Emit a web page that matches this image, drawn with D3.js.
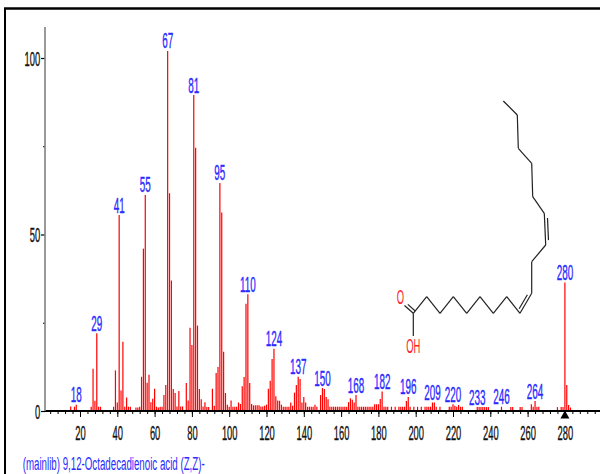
<!DOCTYPE html>
<html>
<head>
<meta charset="utf-8">
<script src="https://cdn.jsdelivr.net/npm/d3@7"></script>
<style>
  body { margin: 0; background: #fff; }
  svg { display: block; }
  text { font-family: "Liberation Sans", Arial, sans-serif; }
</style>
</head>
<body>
<svg id="chart" width="600" height="474"></svg>
<script>
// m/z values and relative intensities
const mz = [
  15, 17, 18, 26, 27, 28, 29, 30, 31, 38, 39, 40, 41, 42, 43, 44, 45, 46, 47,
  50, 51, 52, 53, 54, 55, 56, 57, 58, 59, 60, 61, 62, 63, 64, 65, 66, 67, 68,
  69, 70, 71, 72, 73, 74, 75, 77, 78, 79, 80, 81, 82, 83, 84, 85, 86, 87, 88,
  89, 91, 92, 93, 94, 95, 96, 97, 98, 99, 100, 101, 102, 103, 104, 105, 106,
  107, 108, 109, 110, 111, 112, 113, 114, 115, 116, 117, 118, 119, 120, 121,
  122, 123, 124, 125, 126, 127, 128, 129, 130, 131, 132, 133, 134, 135, 136,
  137, 138, 139, 140, 141, 142, 143, 144, 145, 146, 147, 149, 150, 151, 152,
  153, 154, 155, 156, 157, 158, 159, 160, 161, 162, 163, 164, 165, 166, 167,
  168, 169, 170, 171, 172, 173, 174, 175, 176, 177, 178, 179, 180, 181, 182,
  183, 184, 185, 187, 189, 191, 192, 193, 194, 195, 196, 197, 199, 201, 203,
  205, 206, 207, 208, 209, 210, 211, 213, 218, 219, 220, 221, 222, 223, 224,
  225, 233, 234, 235, 236, 237, 238, 239, 246, 251, 252, 256, 257, 262, 263,
  264, 265, 266, 276, 278, 279, 280, 281, 282, 283
];
const intensity = [
  1.3, 1.2, 1.8, 1.2, 12, 2.9, 22, 1.2, 1.2, 1.2, 11.5, 2.4, 55.5, 5.8, 19.6, 1.2, 3.8, 1.2, 1.2,
  1, 1, 1.2, 9.7, 46, 61.2, 8, 10.3, 2.5, 3.5, 6.3, 1.2, 1, 1.2, 1.2, 4.5, 7.4, 102, 61.7,
  37, 6.2, 5.1, 1.3, 5.7, 1.3, 1.3, 7.9, 3, 23.6, 18.7, 89.5, 74.6, 24.2, 6.2, 3.3, 1.3, 2.5, 1.1,
  1.1, 6.3, 1.5, 10.8, 12.5, 64.6, 56.2, 16.8, 5.1, 1.8, 1.2, 3, 1.2, 1.2, 1.2, 2.4, 2,
  7, 9.6, 30.4, 33.1, 7.9, 2, 1.6, 1.6, 1.6, 1.6, 1.3, 1.3, 1.5, 1.8, 6.3,
  8.6, 14.7, 17.6, 4.2, 3, 2.9, 1.8, 1.2, 1.2, 1.2, 1.2, 2.4, 1.5, 5.2, 7.4,
  9.7, 9.1, 2.4, 4, 2.4, 1.2, 1.2, 1.2, 1.2, 1.8, 1.2, 4.5, 6.5, 6.2, 4,
  3.3, 1.2, 1.2, 1.2, 1.2, 1.2, 1.2, 1.2, 1.2, 1.2, 1.2, 2.5, 3.6, 3.2, 2.4,
  4.5, 1.2, 1.2, 1.2, 1.2, 1.2, 1.2, 1.2, 1.2, 1.2, 1.9, 1.9, 1.9, 3.4, 5.5,
  1.2, 1.2, 1.2, 1.2, 1.2, 1.2, 1.2, 1.2, 1.2, 2.8, 4, 1.2, 1.2, 1.2, 1.2,
  1.2, 1.2, 1.2, 1.2, 2.4, 2.4, 1.2, 1.2, 1.2, 1.2, 1.9, 1.5, 1.2, 1.7, 1.2,
  1.2, 1.1, 1.1, 1.1, 1.1, 1.1, 1.1, 1.1, 1.2, 1.1, 1.1, 1.1, 1.1, 1.9, 1.2,
  2.8, 1.2, 1.2, 1.1, 1.1, 1.1, 36.4, 7.4, 1.7, 1
];
const labelledPeaks = [18, 29, 41, 55, 67, 81, 95, 110, 124, 137, 150, 168, 182, 196, 209, 220, 233, 246, 264, 280];
const molecularIon = 280;
const xTickLabels = [20, 40, 60, 80, 100, 120, 140, 160, 180, 200, 220, 240, 260, 280];
const yTickLabels = [0, 50, 100];
const caption = "(mainlib) 9,12-Octadecadienoic acid (Z,Z)-";

// skeleton of linoleic acid, local coords of the inset drawing
const atoms = [
  [13.3, 218.3], [26.7, 201.7], [40, 218.3], [53.3, 201.7], [66.7, 218.3],
  [80, 201.7], [93.3, 218.3], [106.7, 201.7], [120, 218.3], [131.7, 198.3],
  [131.7, 166.7], [145.7, 150], [144.3, 118.3], [132.7, 101.7], [131.7, 68.3],
  [118.3, 53.3], [117.3, 20], [103.3, 6],
  [4.5, 210.5], [13.3, 241]
];
// [from, to, order, side of the second line]
const bonds = [
  [0, 1, 1], [1, 2, 1], [2, 3, 1], [3, 4, 1], [4, 5, 1], [5, 6, 1], [6, 7, 1],
  [7, 8, 1], [8, 9, 2, -1], [9, 10, 1], [10, 11, 1], [11, 12, 2, 1], [12, 13, 1],
  [13, 14, 1], [14, 15, 1], [15, 16, 1], [16, 17, 1],
  [0, 18, 2, 1], [0, 19, 1]
];
const atomLabels = [
  { text: "O", x: 0.3, y: 209 },
  { text: "OH", x: 13.3, y: 258 }
];

const peaks = mz.map((m, i) => ({ mz: m, value: intensity[i] }));

const svg = d3.select("#chart");
const x = d3.scaleLinear().domain([0, 300]).range([42.7, 602.2]);
const y = d3.scaleLinear().domain([0, 100]).range([411, 58]);

const blue = "#2b2bff";
const red = "#ff0000";

// frame
svg.append("line").attr("x1", 4).attr("x2", 600).attr("y1", 8.5).attr("y2", 8.5)
  .attr("stroke", "#000").attr("stroke-width", 2.5);
svg.append("line").attr("x1", 5).attr("x2", 5).attr("y1", 8).attr("y2", 474)
  .attr("stroke", "#000").attr("stroke-width", 2);

// sticks
svg.selectAll(".peak")
  .data(peaks)
  .join("line")
  .attr("class", "peak")
  .attr("x1", (d) => x(d.mz))
  .attr("x2", (d) => x(d.mz))
  .attr("y1", y(0))
  .attr("y2", (d) => y(d.value))
  .attr("stroke", red)
  .attr("stroke-width", 1.2);

// x axis
const xAxis = svg.append("g").attr("transform", `translate(0,${y(0)})`);
xAxis.append("g")
  .call(d3.axisBottom(x).tickValues(d3.range(4, 300, 4)).tickSize(3).tickFormat(""))
  .call((g) => g.select(".domain").remove());
xAxis.append("g")
  .call(d3.axisBottom(x).tickValues(xTickLabels).tickSize(6).tickPadding(0))
  .call((g) => g.select(".domain").remove())
  .call((g) => g.selectAll("text")
    .attr("y", 29)
    .attr("dy", null)
    .attr("font-size", 19.5)
    .attr("fill", "#111")
    .attr("stroke", "#111")
    .attr("stroke-width", 0.35)
    .attr("transform", "scale(0.48,1)"));
svg.selectAll(".tick line").attr("stroke", "#000");
svg.append("line")
  .attr("x1", 45).attr("x2", 600)
  .attr("y1", y(0)).attr("y2", y(0))
  .attr("stroke", "#000").attr("stroke-width", 1.8);

// molecular ion marker
const mx = x(molecularIon);
const tri = d3.path();
tri.moveTo(mx - 4.5, y(0) + 7.5);
tri.lineTo(mx + 4.5, y(0) + 7.5);
tri.lineTo(mx, y(0) - 0.5);
tri.closePath();
svg.append("path").attr("d", tri.toString()).attr("fill", "#000");

// y axis
const yAxis = svg.append("g").attr("transform", "translate(45,0)");
yAxis.append("g")
  .call(d3.axisLeft(y).tickValues([25, 75]).tickSize(2).tickFormat(""))
  .call((g) => g.select(".domain").remove());
yAxis.append("g")
  .call(d3.axisLeft(y).tickValues(yTickLabels).tickSize(4))
  .call((g) => g.select(".domain").remove())
  .call((g) => g.selectAll("text")
    .attr("x", -4.8 / 0.47)
    .attr("dy", "0.36em")
    .attr("font-size", 20)
    .attr("fill", "#111")
    .attr("stroke", "#111")
    .attr("stroke-width", 0.35)
    .attr("transform", "scale(0.47,1)"));
yAxis.selectAll(".tick line").attr("stroke", "#000").attr("stroke-width", 1.2);
svg.append("line")
  .attr("x1", 45).attr("x2", 45)
  .attr("y1", 27).attr("y2", y(0))
  .attr("stroke", "#808080").attr("stroke-width", 1.6);

// peak labels
svg.selectAll(".peak-label")
  .data(peaks.filter((d) => labelledPeaks.includes(d.mz)))
  .join("text")
  .attr("class", "peak-label")
  .attr("transform", (d) => `translate(${x(d.mz)},${y(d.value) - 2.5}) scale(0.45,1)`)
  .attr("text-anchor", "middle")
  .attr("font-size", 22)
  .attr("fill", blue)
  .attr("stroke", blue)
  .attr("stroke-width", 0.4)
  .text((d) => d.mz);

// structure inset
const mol = svg.append("g").attr("transform", "translate(400,95)");
bonds.forEach(([a, b, order, side]) => {
  const [x1, y1] = atoms[a];
  const [x2, y2] = atoms[b];
  mol.append("line")
    .attr("x1", x1).attr("y1", y1).attr("x2", x2).attr("y2", y2)
    .attr("stroke", "#222").attr("stroke-width", 1.2);
  if (order === 2) {
    const dx = x2 - x1, dy = y2 - y1;
    const len = Math.hypot(dx, dy);
    const ox = (-dy / len) * 3 * side, oy = (dx / len) * 3 * side;
    const t = a === 0 ? 0 : 0.15;
    mol.append("line")
      .attr("x1", x1 + dx * t + ox).attr("y1", y1 + dy * t + oy)
      .attr("x2", x2 - dx * 0.15 + ox).attr("y2", y2 - dy * 0.15 + oy)
      .attr("stroke", "#222").attr("stroke-width", 1.2);
  }
});
mol.selectAll(".atom")
  .data(atomLabels)
  .join("text")
  .attr("class", "atom")
  .attr("transform", (d) => `translate(${d.x},${d.y}) scale(0.47,1)`)
  .attr("text-anchor", "middle")
  .attr("font-size", 20)
  .attr("fill", "#ff2020")
  .text((d) => d.text);

// caption
svg.append("text")
  .attr("x", 22.7)
  .attr("y", 470)
  .attr("font-size", 18)
  .attr("fill", blue)
  .attr("textLength", 182)
  .attr("lengthAdjust", "spacingAndGlyphs")
  .text(caption);
</script>
</body>
</html>
